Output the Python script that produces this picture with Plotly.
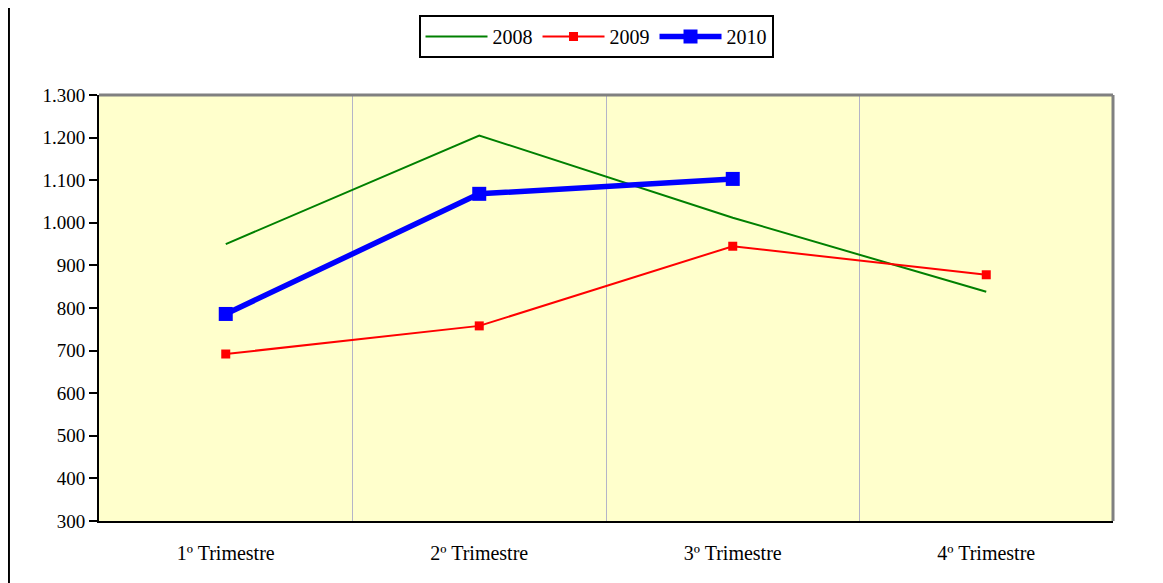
import plotly.graph_objects as go

categories = ["1º Trimestre", "2º Trimestre", "3º Trimestre", "4º Trimestre"]
s2008 = [950, 1205, 1012, 838]
s2009 = [692, 758, 945, 878]
s2010 = [786, 1068, 1103, None]
y_ticks = [300, 400, 500, 600, 700, 800, 900, 1000, 1100, 1200, 1300]

FONT = "Liberation Serif"

fig = go.Figure()
fig.add_trace(go.Scatter(x=categories, y=s2008, name="2008", mode="lines",
                         line=dict(color="#008000", width=2)))
fig.add_trace(go.Scatter(x=categories, y=s2009, name="2009", mode="lines+markers",
                         line=dict(color="#FF0000", width=2),
                         marker=dict(symbol="square", size=9, color="#FF0000")))
fig.add_trace(go.Scatter(x=categories, y=s2010, name="2010", mode="lines+markers",
                         line=dict(color="#0000FF", width=5.5),
                         marker=dict(symbol="square", size=14, color="#0000FF")))

fig.update_layout(
    width=1163, height=583,
    margin=dict(l=91, r=58, t=87, b=70),
    paper_bgcolor="white",
    plot_bgcolor="#FFFFCC",
    separators=",.",
    font=dict(family=FONT, size=19, color="black"),
    showlegend=True,
    legend=dict(orientation="h", xref="container", yref="container",
                x=0.5056, y=0.988, xanchor="center", yanchor="top",
                bordercolor="black", borderwidth=2, bgcolor="white",
                font=dict(family=FONT, size=20), itemwidth=62,
                tracegroupgap=0),
    xaxis=dict(type="category", tickson="boundaries", ticks="",
               showgrid=True, gridcolor="#B4B4C8", gridwidth=1,
               showline=True, linecolor="black", linewidth=2,
               range=[-0.5, 3.5], ticklabelstandoff=13,
               tickfont=dict(family=FONT, size=20)),
    yaxis=dict(range=[300, 1300], tickvals=y_ticks, tickformat=",d",
               ticks="outside", ticklen=8, tickwidth=2, tickcolor="black",
               showgrid=False, zeroline=False,
               showline=True, linecolor="black", linewidth=2,
               tickfont=dict(family=FONT, size=19)),
    shapes=[
        dict(type="line", xref="paper", yref="paper", x0=0, x1=1, y0=1, y1=1,
             line=dict(color="#808080", width=3), layer="above"),
        dict(type="line", xref="paper", yref="paper", x0=1, x1=1, y0=0, y1=1,
             line=dict(color="#808080", width=3), layer="above"),
        dict(type="line", xref="paper", yref="paper", x0=-0.0888, x1=-0.0888,
             y0=-0.2, y1=1.25, line=dict(color="black", width=2)),
    ],
)

fig.write_html("out.html")
